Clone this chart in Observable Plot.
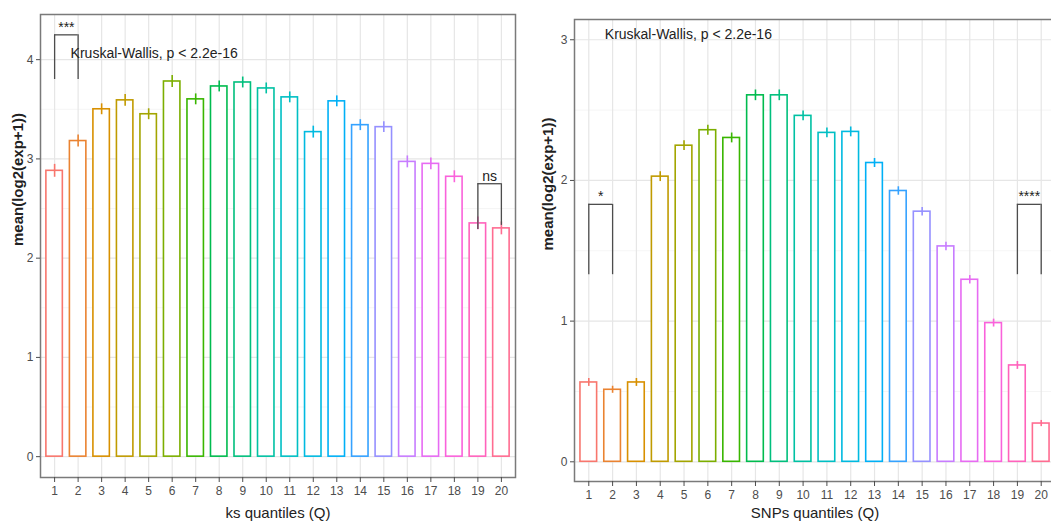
<!DOCTYPE html>
<html>
<head>
<meta charset="utf-8">
<script src="https://cdn.jsdelivr.net/npm/d3@7"></script>
<script src="https://cdn.jsdelivr.net/npm/@observablehq/plot@0.6"></script>
<style>
  html, body { margin: 0; padding: 0; background: white; }
  #wrap { width: 1051px; height: 528px; overflow: hidden; display: flex; flex-direction: row; }
  #wrap > * { flex: none; }
</style>
</head>
<body>
<div id="wrap"></div>
<script>
// ---- data ----
const quantiles = [1,2,3,4,5,6,7,8,9,10,11,12,13,14,15,16,17,18,19,20];
const ksMeans = [2.88, 3.18, 3.50, 3.59, 3.45, 3.78, 3.60, 3.73, 3.77, 3.71, 3.62, 3.27, 3.58, 3.34, 3.32, 2.97, 2.95, 2.82, 2.35, 2.30];
const ksErr   = [0.065, 0.06, 0.055, 0.06, 0.055, 0.06, 0.055, 0.055, 0.055, 0.055, 0.055, 0.06, 0.055, 0.055, 0.055, 0.06, 0.06, 0.06, 0.065, 0.065];
const snpMeans = [0.564, 0.512, 0.564, 2.027, 2.247, 2.357, 2.302, 2.605, 2.605, 2.459, 2.338, 2.345, 2.124, 1.925, 1.778, 1.531, 1.294, 0.986, 0.685, 0.272];
const snpErr   = [0.028, 0.025, 0.028, 0.035, 0.035, 0.035, 0.035, 0.038, 0.038, 0.035, 0.035, 0.035, 0.032, 0.03, 0.03, 0.03, 0.03, 0.028, 0.028, 0.022];
const ksBrackets  = [{from: 1, to: 2, top: 4.25, leg1: 3.80, leg2: 3.80, label: "***"},
                     {from: 19, to: 20, top: 2.75, leg1: 2.29, leg2: 2.33, label: "ns"}];
const snpBrackets = [{from: 1, to: 2, top: 1.83, leg1: 1.33, leg2: 1.33, label: "*"},
                     {from: 19, to: 20, top: 1.83, leg1: 1.33, leg2: 1.33, label: "****"}];
const ksTest  = [{x: 1, y: 4.06, label: "Kruskal-Wallis, p < 2.2e-16"}];
const snpTest = [{x: 1, y: 3.035, label: "Kruskal-Wallis, p < 2.2e-16"}];
const ksTicksY  = [0, 1, 2, 3, 4];
const snpTicksY = [0, 1, 2, 3];
const ksMinorY  = [0.5, 1.5, 2.5, 3.5];
const snpMinorY = [0.5, 1.5, 2.5];
const yTitle = "mean(log2(exp+1))";
const ksTitle = "ks quantiles (Q)";
const snpTitle = "SNPs quantiles (Q)";
const palette = ["#F8766D","#EA8331","#D89000","#C09B00","#A3A500","#7CAE00","#39B600","#00BB4E","#00BF7D","#00C1A3",
                 "#00BFC4","#00BAE0","#00B0F6","#35A2FF","#9590FF","#C77CFF","#E76BF3","#FA62DB","#FF62BC","#FF6C91"];

const sans = "'Liberation Sans', Arial, Helvetica, sans-serif";

function panel(cfg) {
  const rows = quantiles.map((q, i) => ({q, v: cfg.means[i], e: cfg.err[i]}));
  return Plot.plot({
    width: cfg.width, height: 528,
    marginLeft: cfg.ml, marginRight: cfg.mr, marginTop: cfg.mt, marginBottom: cfg.mb,
    x: {domain: [0.4, 20.6]},
    y: {domain: cfg.ydomain},
    color: {type: "ordinal", domain: quantiles, range: palette},
    style: {fontFamily: sans, fontSize: "12px", color: "#4d4d4d", background: "white", overflow: "visible"},
    marks: [
      Plot.gridY({ticks: cfg.minor, stroke: "#f2f2f2", strokeOpacity: 1, strokeWidth: 0.8}),
      Plot.gridY({ticks: cfg.ticksY, stroke: "#e6e6e6", strokeOpacity: 1, strokeWidth: 1.2}),
      Plot.gridX({ticks: quantiles, stroke: "#e6e6e6", strokeOpacity: 1, strokeWidth: 1.2}),
      Plot.rect(rows, {x1: d => d.q - 0.35, x2: d => d.q + 0.35, y1: 0, y2: "v",
                       stroke: "q", fill: "white", strokeWidth: 1.6}),
      Plot.ruleX(rows, {x: "q", y1: d => d.v - d.e, y2: d => d.v + d.e, stroke: "q", strokeWidth: 1.6}),
      Plot.ruleY(cfg.brackets, {x1: "from", x2: "to", y: "top", stroke: "#4d4d4d", strokeWidth: 1.3}),
      Plot.ruleX(cfg.brackets, {x: "from", y1: "leg1", y2: "top", stroke: "#4d4d4d", strokeWidth: 1.3}),
      Plot.ruleX(cfg.brackets, {x: "to", y1: "leg2", y2: "top", stroke: "#4d4d4d", strokeWidth: 1.3}),
      Plot.text(cfg.brackets, {x: d => (d.from + d.to) / 2, y: "top", text: "label", lineAnchor: "bottom",
                               dy: -3, fill: "#222", fontSize: 14, fontFamily: sans}),
      Plot.text(cfg.test, {x: "x", y: "y", text: "label", textAnchor: "start", dx: 16,
                           fill: "#222", fontSize: 14, fontFamily: sans}),
      Plot.frame({stroke: "#7a7a7a", strokeWidth: 1.5}),
      Plot.axisX({ticks: quantiles, tickSize: 5, tickPadding: 4, tickFormat: d => String(d), label: null, fontSize: 12}),
      Plot.axisY({ticks: cfg.ticksY, tickSize: 4, tickPadding: 3, tickFormat: d => String(d), label: null, fontSize: 12}),
      Plot.text([cfg.xTitle], {frameAnchor: "bottom", dy: cfg.xdy, fill: "#222", fontSize: 15, fontFamily: sans}),
      Plot.text([yTitle], {frameAnchor: "left", rotate: -90, dx: cfg.ydx, fill: "#222", fontSize: 15,
                           fontWeight: "bold", fontFamily: sans})
    ]
  });
}

const left = panel({width: 530, ml: 40, mr: 15, mt: 14, mb: 51, ydomain: [-0.21, 4.455],
  means: ksMeans, err: ksErr, brackets: ksBrackets, test: ksTest, ticksY: ksTicksY, minor: ksMinorY,
  xTitle: ksTitle, xdy: 40, ydx: -22});
const right = panel({width: 525, ml: 44, mr: 0, mt: 19, mb: 47, ydomain: [-0.14, 3.144],
  means: snpMeans, err: snpErr, brackets: snpBrackets, test: snpTest, ticksY: snpTicksY, minor: snpMinorY,
  xTitle: snpTitle, xdy: 36, ydx: -26});
document.getElementById("wrap").append(left, right);
</script>
</body>
</html>
